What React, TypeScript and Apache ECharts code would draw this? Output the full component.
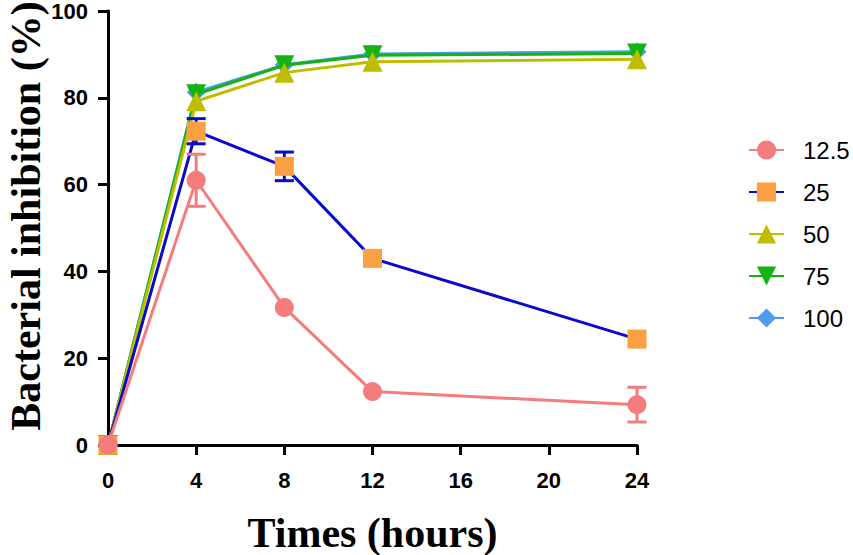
import React, { useEffect, useRef } from "react";
import * as echarts from "echarts";

const times = [0, 4, 8, 12, 24];
const xTicks = [0, 4, 8, 12, 16, 20, 24];
const seriesNames = ["12.5", "25", "50", "75", "100"];
const v12_5 = [0, 61, 31.7, 12.3, 9.3];
const e12_5 = [0, 6, 0, 0, 4];
const v25 = [0, 72.3, 64.2, 43, 24.4];
const e25 = [0, 2.9, 3.3, 0, 0];
const v50 = [0, 79.2, 85.8, 88.3, 88.9];
const v75 = [0, 80.8, 87.5, 89.8, 90.2];
const v100 = [0, 81.3, 87.6, 90.1, 90.6];
const yTitle = "Bacterial inhibition (%)";
const xTitle = "Times (hours)";

const PINK = "#F47C7C";
const NAVY = "#0A0ACB";
const ORANGE = "#FBA042";
const OLIVE = "#BFBD00";
const GREEN = "#12B312";
const SKY = "#4F9BEC";

function errSeries(name: string, vals: number[], errs: number[], color: string, z: number) {
  return {
    type: "custom",
    name: name + " err",
    z,
    silent: true,
    renderItem: (_p: any, api: any) => {
      const x = api.value(0);
      const y = api.value(1);
      const e = api.value(2);
      if (!e) return null;
      const top = api.coord([x, y + e]);
      const bot = api.coord([x, y - e]);
      const hw = 9.5;
      const st = { stroke: color, lineWidth: 3 };
      return {
        type: "group",
        children: [
          { type: "line", shape: { x1: top[0], y1: top[1], x2: bot[0], y2: bot[1] }, style: st },
          { type: "line", shape: { x1: top[0] - hw, y1: top[1], x2: top[0] + hw, y2: top[1] }, style: st },
          { type: "line", shape: { x1: bot[0] - hw, y1: bot[1], x2: bot[0] + hw, y2: bot[1] }, style: st },
        ],
      };
    },
    data: times.map((t, i) => [t, vals[i], errs[i]]),
  };
}

function lineSeries(name: string, vals: number[], lineColor: string, markColor: string, symbol: string, size: number, z: number, rotate = 0) {
  return {
    type: "line",
    name,
    z,
    symbol,
    symbolSize: size,
    symbolRotate: rotate,
    showAllSymbol: true,
    lineStyle: { color: lineColor, width: 3 },
    itemStyle: { color: markColor, borderWidth: 0 },
    data: times.map((t, i) => [t, vals[i]]),
  };
}

export default function App() {
  const ref = useRef<HTMLDivElement>(null);
  useEffect(() => {
    document.body.style.margin = "0";
    const chart = echarts.init(ref.current!, null, { renderer: "svg" });
    const axisFont = { fontFamily: "Liberation Sans", fontWeight: "bold" as const, fontSize: 22, lineHeight: 20, color: "#000" };
    const titleFont = { fontFamily: "Liberation Serif", fontWeight: "bold" as const, fontSize: 42, color: "#000" };
    chart.setOption({
      animation: false,
      backgroundColor: "#fff",
      grid: { left: 108, right: 216, top: 11, bottom: 110, containLabel: false, outerBoundsMode: "none" },
      graphic: [
        {
          type: "text",
          x: 26,
          y: 216,
          rotation: Math.PI / 2,
          style: {
            text: yTitle,
            font: "bold 42px 'Liberation Serif'",
            fill: "#000",
            align: "center",
            verticalAlign: "middle",
          },
        },
      ],
      legend: {
        data: seriesNames,
        orient: "vertical",
        left: 748,
        top: 138,
        padding: 0,
        itemWidth: 35,
        itemHeight: 24,
        itemGap: 18,
        textStyle: { fontFamily: "Liberation Sans", fontSize: 24, color: "#000", padding: [0, 0, 0, 14] },
      },
      xAxis: {
        type: "value",
        min: 0,
        max: 24,
        interval: 4,
        name: xTitle,
        nameLocation: "middle",
        nameGap: 67,
        nameTextStyle: titleFont,
        axisLine: { show: true, lineStyle: { color: "#000", width: 3 } },
        axisTick: { show: true, length: 10, lineStyle: { color: "#000", width: 3 } },
        axisLabel: { ...axisFont, margin: 25, customValues: xTicks },
        splitLine: { show: false },
      },
      yAxis: {
        type: "value",
        min: 0,
        max: 100,
        interval: 20,
        axisLine: { show: true, lineStyle: { color: "#000", width: 3 } },
        axisTick: { show: true, length: 10, lineStyle: { color: "#000", width: 3 } },
        axisLabel: { ...axisFont, margin: 20 },
        splitLine: { show: false },
      },
      series: [
        errSeries("100", v100, [0, 0, 0, 0, 0], SKY, 2),
        lineSeries("100", v100, SKY, SKY, "diamond", 19, 3),
        errSeries("75", v75, [0, 0, 0, 0, 0], GREEN, 4),
        lineSeries("75", v75, GREEN, GREEN, "triangle", 20, 5, 180),
        errSeries("50", v50, [0, 0, 0, 0, 0], OLIVE, 6),
        lineSeries("50", v50, OLIVE, OLIVE, "triangle", 20, 7),
        errSeries("25", v25, e25, NAVY, 8),
        lineSeries("25", v25, NAVY, ORANGE, "rect", 19, 9),
        errSeries("12.5", v12_5, e12_5, PINK, 10),
        lineSeries("12.5", v12_5, PINK, PINK, "circle", 19, 11),
      ],
    });
    return () => chart.dispose();
  }, []);
  return <div ref={ref} style={{ width: 853, height: 555 }} />;
}
